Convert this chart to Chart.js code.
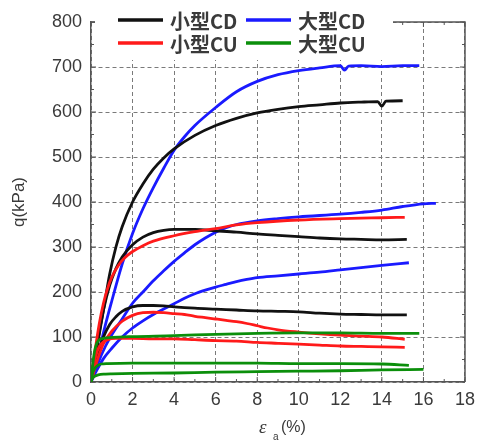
<!DOCTYPE html>
<html>
<head>
<meta charset="utf-8">
<script src="https://cdn.jsdelivr.net/npm/chart.js@4/dist/chart.umd.min.js"></script>
<style>
  html, body { margin: 0; padding: 0; background: #fff; }
  #wrap { width: 482px; height: 444px; }
</style>
</head>
<body>
<div id="wrap"><canvas id="qChart" width="482" height="444"></canvas></div>
<script>
// Axis ranges and ticks
const xTicks = [0, 2, 4, 6, 8, 10, 12, 14, 16, 18];
const yTicks = [0, 100, 200, 300, 400, 500, 600, 700, 800];

// Series labels (legend)
const seriesNames = ['小型CD', '大型CD', '小型CU', '大型CU'];

// Curves: [strain %, q kPa]
const smallCD_hi = [[0,0],[0.3,80],[0.6,160],[0.9,240],[1.2,300],[1.5,345],[2,400],[2.5,440],[3,473],[3.5,498],[4,518],[5,548],[6,570],[7,586],[8,598],[9,606],[10,612],[11,616],[12,620],[13,622],[13.8,623],[14,613],[14.2,624],[15,625]];
const smallCD_mid = [[0,0],[0.3,85],[0.6,160],[0.9,215],[1.2,252],[1.5,278],[2,305],[2.5,322],[3,332],[3.5,337],[4,339],[5,339],[6,336],[7,333],[8,329],[9,326],[10,323],[11,320],[12,318],[13,317],[14,316],[15.2,317]];
const smallCD_lo = [[0,0],[0.3,60],[0.6,100],[0.9,128],[1.2,145],[1.5,157],[2,167],[2.5,170],[3,170],[3.5,169],[4,167],[5,164],[6,162],[7,160],[8,158],[9,157],[10,156],[11,153],[12,151],[13,150],[14,149],[15.2,149]];

const largeCD_hi = [[0,0],[0.3,50],[0.6,110],[1,180],[1.5,262],[2,330],[2.5,385],[3,432],[3.5,475],[4,515],[4.5,545],[5,570],[6,610],[7,645],[8,668],[9,683],[10,692],[11,698],[12,703],[12.2,693],[12.4,702],[13,703],[14,701],[15,703],[15.8,703]];
const largeCD_mid = [[0,0],[0.3,38],[0.7,80],[1,105],[1.5,140],[2,175],[2.5,200],[3,225],[3.5,247],[4,268],[4.5,287],[5,305],[5.5,320],[6,333],[6.5,343],[7,350],[8,358],[9,363],[10,367],[12,373],[13,377],[14,382],[15,390],[16,396],[16.6,397]];
const largeCD_lo = [[0,0],[0.3,28],[0.6,52],[1,75],[1.5,100],[2,120],[2.5,136],[3,150],[3.5,162],[4,174],[4.5,186],[5,196],[5.5,204],[6,211],[6.5,217],[7,223],[7.5,228],[8,232],[9,236],[10,240],[11,244],[12,249],[13,254],[14,259],[15.3,265]];

const smallCU_hi = [[0,0],[0.2,70],[0.4,130],[0.6,175],[0.8,208],[1,233],[1.3,258],[1.6,275],[2,290],[2.5,303],[3,313],[4,325],[5,334],[6,341],[7,349],[8,354],[10,360],[12,363],[14,365],[15.1,366]];
const smallCU_mid = [[0,0],[0.3,48],[0.6,85],[1,113],[1.5,135],[2,148],[2.5,154],[3,155],[3.5,154],[4,152],[4.5,150],[5,146],[5.5,143],[6,140],[6.5,137],[7,134],[7.5,130],[8,125],[8.5,120],[9,116],[10,111],[11,107],[12,104],[13,102],[14,100],[15.1,95]];
const smallCU_lo = [[0,0],[0.15,40],[0.3,68],[0.5,85],[0.8,94],[1.2,97],[2,97],[3,96],[4,96],[5,94],[6,92],[7,91],[8,88],[9,86],[10,84],[11,82],[12,80],[13,79],[14,78],[15.1,77]];

const largeCU_hi = [[0,0],[0.1,45],[0.2,75],[0.35,92],[0.6,97],[1,99],[2,101],[4,103],[6,106],[8,108],[10,109],[12,109],[14,108],[15.8,108]];
const largeCU_mid = [[0,0],[0.05,15],[0.15,28],[0.3,36],[0.5,40],[0.8,41],[2,42],[4,42],[6,42],[8,42],[10,41],[12,41],[14,40],[15.3,37]];
const largeCU_lo = [[0,0],[0.05,7],[0.15,12],[0.35,16],[0.7,17.5],[1,18],[2,19],[4,20],[6,22],[8,23],[10,24],[12,25],[14,27],[16,28]];

const cdSmall = '#111111', cdLarge = '#1a1aff', cuSmall = '#ff1a1a', cuLarge = '#0b8f0b';
const seriesColors = [cdSmall, cdLarge, cuSmall, cuLarge];
const axisColor = '#555', textColor = '#3a3a3a', gridColor = '#7a7a7a';

function curve(data, color) {
  return {
    data: data,
    borderColor: color,
    borderWidth: 2.8,
    pointRadius: 0,
    showLine: true,
    fill: false,
    cubicInterpolationMode: 'monotone'
  };
}

const datasets = [
  curve(largeCU_hi, cuLarge), curve(largeCU_mid, cuLarge), curve(largeCU_lo, cuLarge),
  curve(smallCU_hi, cuSmall), curve(smallCU_mid, cuSmall), curve(smallCU_lo, cuSmall),
  curve(smallCD_hi, cdSmall), curve(smallCD_mid, cdSmall), curve(smallCD_lo, cdSmall),
  curve(largeCD_hi, cdLarge), curve(largeCD_mid, cdLarge), curve(largeCD_lo, cdLarge)
];

// Frame on the right/top plus inward tick marks on all four sides
const framePlugin = {
  id: 'frame',
  beforeDatasetsDraw(chart) {
    const { ctx, chartArea: a, scales: { x, y } } = chart;
    ctx.save();
    ctx.strokeStyle = axisColor;
    ctx.lineWidth = 1.5;
    ctx.beginPath();
    ctx.moveTo(a.left, a.top); ctx.lineTo(a.right, a.top); ctx.lineTo(a.right, a.bottom);
    ctx.stroke();
    ctx.lineWidth = 1;
    ctx.beginPath();
    for (let v = 0; v <= 18; v += 1) {
      const px = x.getPixelForValue(v), len = v % 2 === 0 ? 5 : 3;
      ctx.moveTo(px, a.bottom); ctx.lineTo(px, a.bottom - len);
      ctx.moveTo(px, a.top); ctx.lineTo(px, a.top + len);
    }
    for (let v = 0; v <= 800; v += 50) {
      const py = y.getPixelForValue(v), len = v % 100 === 0 ? 5 : 3;
      ctx.moveTo(a.left, py); ctx.lineTo(a.left + len, py);
      ctx.moveTo(a.right, py); ctx.lineTo(a.right - len, py);
    }
    ctx.stroke();
    ctx.restore();
  }
};

// Legend box sitting inside the plot, over the top edge
const legendPlugin = {
  id: 'insideLegend',
  afterDatasetsDraw(chart) {
    const { ctx } = chart;
    ctx.save();
    ctx.fillStyle = '#fff';
    ctx.fillRect(95, 0, 298, 60);
    const cols = [118, 246], rows = [20, 43];
    ctx.font = 'bold 20px "Noto Sans CJK JP"';
    ctx.textBaseline = 'middle';
    seriesNames.forEach((name, i) => {
      const cx = cols[i % 2], cy = rows[Math.floor(i / 2)];
      ctx.strokeStyle = seriesColors[i];
      ctx.lineWidth = 3.5;
      ctx.beginPath(); ctx.moveTo(cx, cy); ctx.lineTo(cx + 45, cy); ctx.stroke();
      ctx.fillStyle = textColor;
      ctx.fillText(name, cx + 52, cy + 1);
    });
    ctx.restore();
  }
};

// x-axis title with subscript: εa(%)
const xTitlePlugin = {
  id: 'xTitle',
  afterDraw(chart) {
    const { ctx } = chart;
    ctx.save();
    ctx.fillStyle = textColor;
    ctx.textBaseline = 'alphabetic';
    ctx.font = 'italic 19px "Liberation Serif"';
    ctx.fillText('ε', 259, 433);
    ctx.font = '10px "Liberation Sans"';
    ctx.fillText('a', 273, 440);
    ctx.font = '16px "Liberation Sans"';
    ctx.fillText('(%)', 281, 432);
    ctx.restore();
  }
};

new Chart(document.getElementById('qChart'), {
  type: 'scatter',
  data: { datasets: datasets },
  plugins: [framePlugin, legendPlugin, xTitlePlugin],
  options: {
    responsive: false,
    animation: false,
    layout: { padding: { left: 0, right: 12, top: 22, bottom: 0 } },
    plugins: { legend: { display: false }, tooltip: { enabled: false } },
    scales: {
      x: {
        type: 'linear', min: 0, max: 18,
        afterFit: (s) => { s.height = 62; },
        afterBuildTicks: (s) => { s.ticks = xTicks.map(v => ({ value: v })); },
        ticks: { color: textColor, font: { family: 'Liberation Sans', size: 18 }, padding: 7, maxRotation: 0 },
        grid: { color: gridColor, lineWidth: 1, drawTicks: false },
        border: { display: true, color: axisColor, width: 1.5, dash: [4, 3] }
      },
      y: {
        type: 'linear', min: 0, max: 800,
        afterFit: (s) => { s.width = 91; },
        afterBuildTicks: (s) => { s.ticks = yTicks.map(v => ({ value: v })); },
        ticks: { color: textColor, font: { family: 'Liberation Sans', size: 18 }, padding: 9 },
        grid: { color: gridColor, lineWidth: 1, drawTicks: false },
        border: { display: true, color: axisColor, width: 1.5, dash: [4, 3] },
        title: { display: true, text: 'q(kPa)', color: textColor, font: { family: 'Liberation Sans', size: 17 }, padding: { top: 9, bottom: 0 } }
      }
    }
  }
});
</script>
</body>
</html>
